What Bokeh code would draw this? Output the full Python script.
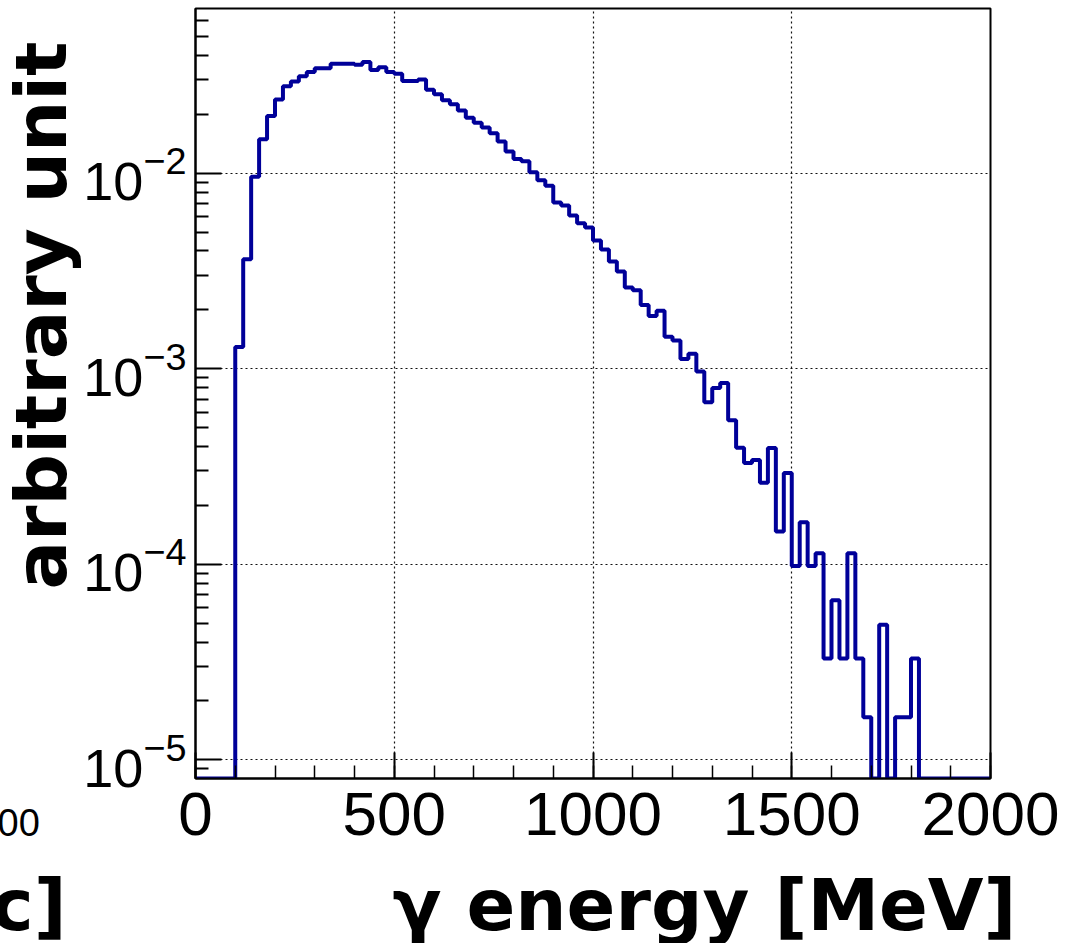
import math
from bokeh.plotting import figure
from bokeh.models import Range1d, FixedTicker, Label
from bokeh.embed import file_html
from bokeh.resources import INLINE

# ---------------- data ----------------
bin_width = 20  # MeV
bin_low = list(range(0, 2000, bin_width))  # 100 bins, 0..2000 MeV
values = [
    0, 0, 0, 0, 0,
    1.29e-3, 3.63e-3, 9.6e-3, 0.0149, 0.0196,
    0.0238, 0.0278, 0.0294, 0.0313, 0.0329,
    0.0344, 0.0344, 0.0363, 0.0363, 0.0363,
    0.0358, 0.0370, 0.0337, 0.0348, 0.0329,
    0.0322, 0.0296, 0.0296, 0.0301, 0.0267,
    0.0253, 0.0236, 0.0225, 0.0209, 0.0192,
    0.0181, 0.0171, 0.0160, 0.0145, 0.0129,
    0.0118, 0.0115, 0.0101, 0.00921, 0.00863,
    0.00707, 0.00683, 0.00607, 0.00554, 0.00528,
    0.00453, 0.00407, 0.00353, 0.00314, 0.00260,
    0.00252, 0.00212, 0.00186, 0.00198, 0.001457,
    0.001395, 0.001121, 0.001193, 0.000969, 0.000673,
    0.000797, 0.000845, 0.000545, 0.000394, 0.000330,
    0.000341, 0.000261, 0.000393, 0.000147, 0.000293,
    0.0000980, 0.000164, 0.0000980, 0.000114, 0.0000330,
    0.0000654, 0.0000330, 0.000114, 0.0000330, 0.0000165,
    0, 0.0000491, 0, 0.0000165, 0.0000165,
    0.0000330, 0, 0, 0, 0,
    0, 0, 0, 0, 0,
]
x_major = [0, 500, 1000, 1500, 2000]
x_minor = list(range(0, 2001, 100))
y_major = [1e-5, 1e-4, 1e-3, 1e-2]
y_minor = [k * 10.0 ** e for e in range(-6, -1) for k in range(2, 10)]

x_title = "γ energy [MeV]"
y_title = "arbitrary unit"
frag_left_title = "c]"   # cut-off title of the neighbouring panel
frag_left_tick = "00"    # cut-off tick label of the neighbouring panel

x_lo, x_hi = 0, 2000
y_lo, y_hi = 8.03e-6, 0.0695

# ---------------- layout ----------------
W, H = 1080, 943
L, R, T, B = 195, 990, 8, 778
lg_lo, lg_hi = math.log10(y_lo), math.log10(y_hi)
BASE_SHIFT = 0.31  # label anchor sits this many em above the drawn baseline


def x_at(px):
    return x_lo + (px - L) / (R - L) * (x_hi - x_lo)


def y_at(py):
    return 10 ** (lg_lo + (B - py) / (B - T) * (lg_hi - lg_lo))


p = figure(width=W, height=H, x_range=Range1d(x_lo, x_hi), y_range=Range1d(y_lo, y_hi),
           y_axis_type="log", output_backend="svg", toolbar_location=None,
           min_border_left=L, min_border_right=W - R, min_border_top=T, min_border_bottom=H - B)
p.background_fill_color = "white"
p.border_fill_color = "white"
p.outline_line_color = "black"
p.outline_line_width = 2

# histogram (empty bins drawn along the lower edge, as ROOT does)
plot_vals = [v if v > 0 else y_lo for v in values]
xs = bin_low + [x_hi]
ys = plot_vals + [plot_vals[-1]]
p.step(xs, ys, mode="after", line_color="#000099", line_width=4)

# axes
xt = FixedTicker(ticks=x_major, minor_ticks=x_minor)
yt = FixedTicker(ticks=y_major, minor_ticks=y_minor)
p.xaxis.ticker = xt
p.yaxis.ticker = yt
p.xgrid.ticker = xt
p.ygrid.ticker = yt
for g in (p.xgrid, p.ygrid):
    g.grid_line_color = "#111111"
    g.grid_line_dash = "2 3"
    g.grid_line_width = 1.2

for ax in (p.xaxis, p.yaxis):
    ax.axis_line_color = "black"
    ax.axis_line_width = 2
    ax.major_tick_in = 26
    ax.major_tick_out = 0
    ax.minor_tick_in = 13
    ax.minor_tick_out = 0
    ax.major_tick_line_color = "black"
    ax.minor_tick_line_color = "black"
    ax.major_tick_line_width = 2
    ax.minor_tick_line_width = 2
    ax.major_label_text_font = "Liberation Sans"
    ax.major_label_text_color = "black"

p.xaxis.major_label_text_font_size = "62px"
p.xaxis.major_label_standoff = 14
p.xaxis.minor_tick_line_width = 1.5

p.yaxis.major_label_text_font_size = "54px"
p.yaxis.major_label_standoff = 9


def add_text(side, px, py, text, size, bold=True, font="DejaVu Sans", align="left", angle=0.0):
    # py is the wanted baseline; the anchor is lifted to match how the label is drawn
    shift = BASE_SHIFT * size
    if angle == 0.0:
        x, y = x_at(px), y_at(py - shift)
    else:
        x, y = x_at(px - shift), y_at(py)
    p.add_layout(Label(x=x, y=y, text=text, text_align=align, text_baseline="alphabetic",
                       angle=angle, text_font=font, text_font_style="bold" if bold else "normal",
                       text_font_size=f"{size}px", text_color="black"), side)


# titles (in side panels, so not clipped by the frame). The cut-off "c]" of the
# neighbouring panel shares the x title's line, font and baseline.
add_text("below", 1016, 927, frag_left_title + "\u00a0" * 13 + x_title, 72, align="right")
add_text("right", 63, 315, y_title, 72, align="center", angle=math.pi / 2)
add_text("left", -3, 834, frag_left_tick, 38, bold=False, font="Liberation Sans")

open("out.html", "w").write(file_html(p, INLINE))
